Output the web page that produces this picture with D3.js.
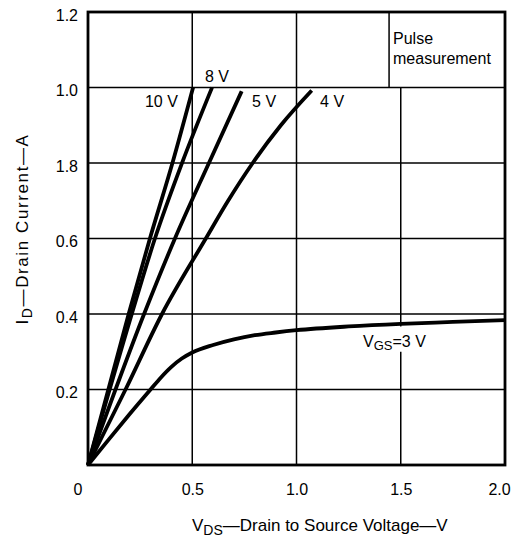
<!DOCTYPE html>
<html>
<head>
<meta charset="utf-8">
<script src="https://cdn.jsdelivr.net/npm/d3@7"></script>
<style>
  html, body { margin: 0; padding: 0; background: #fff; }
  svg { display: block; font-family: "Liberation Sans", Arial, Helvetica, sans-serif; }
</style>
</head>
<body>
<svg id="chart" width="522" height="538"></svg>
<script>
// ---- data ----
const xTickValues = [0, 0.5, 1.0, 1.5, 2.0];
const xTickLabels = ["0", "0.5", "1.0", "1.5", "2.0"];
const yTickValues = [1.2, 1.0, 0.8, 0.6, 0.4, 0.2];
const yTickLabels = ["1.2", "1.0", "1.8", "0.6", "0.4", "0.2"];

const seriesNames = ["10 V", "8 V", "5 V", "4 V", "VGS=3 V"];
const vgs10 = [[0, 0], [0.195, 0.4], [0.297, 0.6], [0.405, 0.8], [0.504, 1.0]];
const vgs8  = [[0, 0], [0.21, 0.4], [0.321, 0.6], [0.451, 0.8], [0.595, 1.0]];
const vgs5  = [[0, 0], [0.269, 0.4], [0.417, 0.6], [0.58, 0.8], [0.737, 0.99]];
const vgs4  = [[0, 0], [0.18, 0.2], [0.355, 0.4], [0.565, 0.6], [0.672, 0.7],
               [0.79, 0.8], [0.925, 0.9], [1.073, 0.992]];
const vgs3  = [[0, 0], [0.1, 0.068], [0.2, 0.135], [0.3, 0.2], [0.35, 0.232], [0.4, 0.26],
               [0.45, 0.282], [0.5, 0.298], [0.6, 0.318], [0.7, 0.333], [0.8, 0.344],
               [0.9, 0.351], [1.0, 0.357], [1.25, 0.367], [1.5, 0.374], [1.75, 0.379], [2.0, 0.384]];

// ---- layout ----
const svg = d3.select("#chart");
const x = d3.scaleLinear().domain([0, 2]).range([88, 505]);
const y = d3.scaleLinear().domain([0, 1.2]).range([465, 12]);
const FONT = 16;

// ---- grid ----
const grid = svg.append("g").attr("stroke", "#000").attr("stroke-width", 1.5);
grid.selectAll("line.h").data(yTickValues.filter(v => v > 0 && v < 1.2)).join("line")
  .attr("x1", x(0)).attr("x2", x(2))
  .attr("y1", d => y(d)).attr("y2", d => y(d));
// vertical grid lines (1.5 V line stops at 1.0 A, where the note box begins)
grid.selectAll("line.v").data(xTickValues.filter(v => v > 0 && v < 2)).join("line")
  .attr("x1", d => x(d)).attr("x2", d => x(d))
  .attr("y1", y(0)).attr("y2", d => d === 1.5 ? y(1.0) : y(1.2));
// note box left edge
grid.append("line")
  .attr("x1", x(1.444)).attr("x2", x(1.444))
  .attr("y1", y(1.0)).attr("y2", y(1.2));

// white background behind the VGS label (breaks the 1.5 V grid line)
svg.append("rect")
  .attr("x", x(1.305)).attr("y", y(0.367))
  .attr("width", x(1.68) - x(1.305)).attr("height", y(0.3) - y(0.367))
  .attr("fill", "#fff");

// frame
svg.append("rect")
  .attr("x", x(0)).attr("y", y(1.2))
  .attr("width", x(2) - x(0)).attr("height", y(0) - y(1.2))
  .attr("fill", "none").attr("stroke", "#000").attr("stroke-width", 2.8);

// ---- curves ----
const line = d3.line().x(d => x(d[0])).y(d => y(d[1])).curve(d3.curveMonotoneX);
svg.append("g").selectAll("path")
  .data([vgs10, vgs8, vgs5, vgs4, vgs3]).join("path")
  .attr("d", line)
  .attr("fill", "none").attr("stroke", "#000").attr("stroke-width", 3.8)
  .attr("stroke-linecap", "butt").attr("stroke-linejoin", "round");

// ---- axes (labels only) ----
const yAxis = d3.axisLeft(y).tickValues(yTickValues)
  .tickFormat((d, i) => yTickLabels[i]).tickSize(0).tickPadding(0);
const gy = svg.append("g").attr("transform", `translate(${x(0) - 10},0)`).call(yAxis);
gy.select(".domain").remove();
gy.selectAll("text").attr("font-size", FONT).attr("fill", "#000")
  .attr("font-family", "Liberation Sans, Arial, sans-serif").attr("dy", "0.5em");

const xAxis = d3.axisBottom(x).tickValues(xTickValues)
  .tickFormat((d, i) => xTickLabels[i]).tickSize(0).tickPadding(0);
const gx = svg.append("g").attr("transform", `translate(0,${y(0)})`).call(xAxis);
gx.select(".domain").remove();
gx.selectAll("text").attr("font-size", FONT).attr("fill", "#000")
  .attr("font-family", "Liberation Sans, Arial, sans-serif")
  .attr("dy", null).attr("y", 30)
  .attr("text-anchor", (d, i) => i === 0 ? "end" : "middle")
  .attr("x", (d, i) => i === 0 ? -6 : (i === xTickValues.length - 1 ? -6 : 0));

// ---- curve labels ----
const ann = svg.append("g").attr("font-size", FONT).attr("fill", "#000");
ann.append("text").attr("x", x(0.273)).attr("y", y(0.948)).text(seriesNames[0]);
ann.append("text").attr("x", x(0.561)).attr("y", y(1.015)).text(seriesNames[1]);
ann.append("text").attr("x", x(0.787)).attr("y", y(0.948)).text(seriesNames[2]);
ann.append("text").attr("x", x(1.113)).attr("y", y(0.948)).text(seriesNames[3]);
const vg = ann.append("text").attr("x", x(1.319)).attr("y", y(0.313));
vg.append("tspan").text("V");
vg.append("tspan").attr("font-size", 13).attr("dy", 3).text("GS");
vg.append("tspan").attr("dy", -3).text("=3 V");

// note box text
ann.append("text").attr("x", x(1.463)).attr("y", y(1.115)).text("Pulse");
ann.append("text").attr("x", x(1.463)).attr("y", y(1.062)).text("measurement");

// ---- axis titles ----
const xt = svg.append("text").attr("x", 192).attr("y", 531)
  .attr("font-size", 17).attr("fill", "#000");
xt.append("tspan").text("V");
xt.append("tspan").attr("font-size", 14).attr("dy", 4).text("DS");
xt.append("tspan").attr("dy", -4).text("\u2014Drain to Source Voltage\u2014V");

const yt = svg.append("text")
  .attr("transform", "translate(28,229) rotate(-90)")
  .attr("text-anchor", "middle").attr("font-size", 17).attr("fill", "#000")
  .attr("letter-spacing", 1.6);
yt.append("tspan").text("I");
yt.append("tspan").attr("font-size", 14).attr("dy", 4).text("D");
yt.append("tspan").attr("dy", -4).text("\u2014Drain Current\u2014A");
</script>
</body>
</html>
